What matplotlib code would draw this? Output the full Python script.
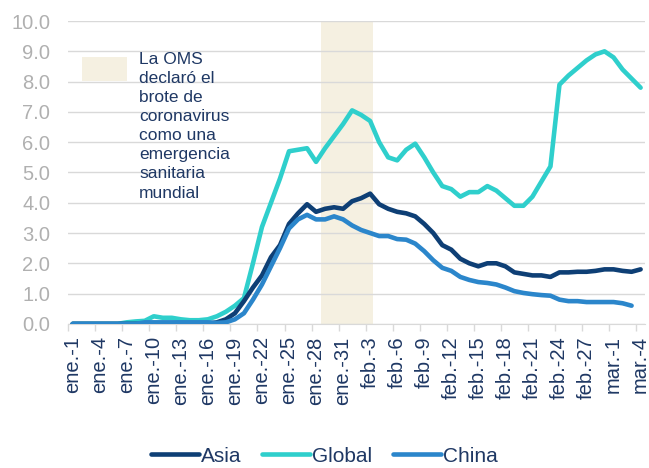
import numpy as np
import matplotlib
matplotlib.use("Agg")
import matplotlib.pyplot as plt
import matplotlib.patches as patches

plt.rcParams["font.family"] = ["Liberation Sans", "DejaVu Sans"]

# Daily values, ene.-1 .. mar.-4 (2020)
days = ([f"ene.-{d}" for d in range(1, 32)] + [f"feb.-{d}" for d in range(1, 30)]
        + [f"mar.-{d}" for d in range(1, 5)])

asia = [0.0] * 16 + [
    0.05, 0.15, 0.35, 0.75, 1.2, 1.6, 2.2, 2.6, 3.3, 3.65, 3.95, 3.7, 3.8, 3.85,
    3.8, 4.05, 4.15, 4.3, 3.95, 3.8, 3.7, 3.65, 3.55, 3.3, 3.0, 2.6, 2.45, 2.15,
    2.0, 1.9, 2.0, 2.0, 1.9, 1.7, 1.65, 1.6, 1.6, 1.55, 1.7, 1.7, 1.72, 1.72,
    1.75, 1.8, 1.8, 1.75, 1.72, 1.8]

global_ = [0.0] * 6 + [
    0.05, 0.08, 0.1, 0.25, 0.2, 0.2, 0.15, 0.12, 0.12, 0.15, 0.25, 0.4, 0.6, 0.85,
    2.0, 3.2, 4.0, 4.8, 5.7, 5.75, 5.8, 5.35, 5.8, 6.2, 6.6, 7.05, 6.9, 6.7, 6.0,
    5.5, 5.4, 5.75, 5.95, 5.5, 5.0, 4.55, 4.45, 4.2, 4.35, 4.35, 4.55, 4.4, 4.15,
    3.9, 3.9, 4.2, 4.7, 5.2, 7.9, 8.2, 8.45, 8.7, 8.9, 9.0, 8.8, 8.4, 8.1, 7.8]

china = [0.0] * 8 + [0.05] * 8 + [
    0.03, 0.05, 0.15, 0.35, 0.8, 1.3, 1.9, 2.5, 3.15, 3.45, 3.6, 3.45, 3.45, 3.55,
    3.45, 3.25, 3.1, 3.0, 2.9, 2.9, 2.8, 2.78, 2.65, 2.4, 2.1, 1.85, 1.75, 1.55,
    1.45, 1.38, 1.35, 1.3, 1.2, 1.08, 1.02, 0.98, 0.95, 0.93, 0.8, 0.75, 0.75,
    0.72, 0.72, 0.72, 0.72, 0.68, 0.6]

who_start, who_end = 27.55, 33.3  # shaded period (category index)

NAVY = "#0e3f75"
TEAL = "#2fcfcc"
BLUE = "#2b86cb"
SHADE = "#f5f0e1"
TXT = "#1f3864"

fig = plt.figure(figsize=(6.49, 4.68), dpi=100)
ax = fig.add_axes([0.105, 0.308, 0.889, 0.647])

x = np.arange(len(days))
ax.axvspan(who_start, who_end, color=SHADE, zorder=0, lw=0)
kw = dict(linewidth=3.3, solid_capstyle="round", solid_joinstyle="round")
ax.plot(x[:len(asia)], asia, color=NAVY, label="Asia", zorder=3, **kw)
ax.plot(x[:len(global_)], global_, color=TEAL, label="Global", zorder=2, **kw)
ax.plot(x[:len(china)], china, color=BLUE, label="China", zorder=3, **kw)

ax.set_xlim(-0.5, len(days) - 0.5)
ax.set_ylim(0, 10)
ax.set_yticks(np.arange(0, 10.1, 1.0))
ax.set_yticklabels([f"{v:.1f}" for v in np.arange(0, 10.1, 1.0)])
ax.grid(True, axis="y", color="#d9d9d9", linewidth=1)
ax.set_axisbelow(True)
ax.tick_params(axis="y", length=0, labelsize=14.5, labelcolor="#b0b0b0", pad=13)

ax.set_xticks(x[::3])
ax.set_xticklabels(days[::3], rotation=90, fontsize=14.5, color=TXT)
ax.set_xticks(np.arange(-0.5, len(days), 3), minor=True)
ax.tick_params(axis="x", which="major", length=0, pad=9)
ax.tick_params(axis="x", which="minor", length=5, color="#d9d9d9", width=1)

for s in ["top", "right", "left"]:
    ax.spines[s].set_visible(False)
ax.spines["bottom"].set_color("#d9d9d9")

# note for the shaded period
fig.patches.append(patches.Rectangle((82 / 649, 1 - 81 / 468), 45 / 649, 24 / 468,
                                     transform=fig.transFigure, facecolor=SHADE,
                                     edgecolor="none"))
fig.text(139 / 649, 1 - 52 / 468,
         "La OMS\ndeclaró el\nbrote de\ncoronavirus\ncomo una\nemergencia\nsanitaria\nmundial",
         ha="left", va="top", fontsize=12.5, color=TXT, linespacing=1.34)

fig.legend(loc="lower center", bbox_to_anchor=(0.5, -0.035), ncol=3, frameon=False,
           fontsize=15, handlelength=2.3, columnspacing=1.0, handletextpad=0.1,
           labelcolor=TXT)

fig.savefig("out.png", dpi=100)
